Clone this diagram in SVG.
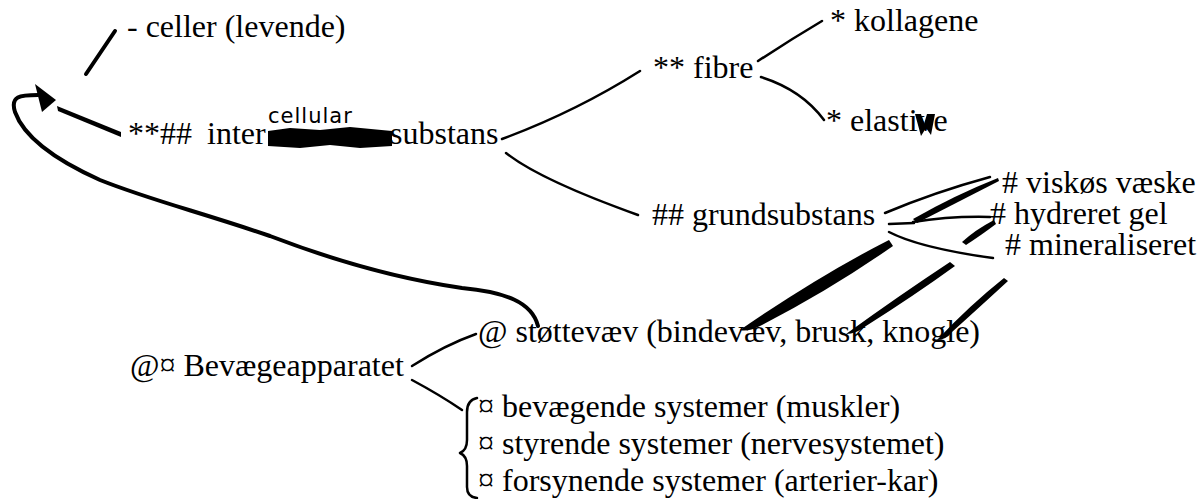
<svg xmlns="http://www.w3.org/2000/svg" width="1198" height="499" viewBox="0 0 1198 499">
<style>
.t{font-family:"Liberation Serif","Times New Roman",serif;font-size:32px;fill:#000}
.hw{font-family:"DejaVu Sans","Liberation Sans",sans-serif;font-size:21px;fill:#000;letter-spacing:1px}
.ln{fill:none;stroke:#000;stroke-width:2.5;stroke-linecap:round;stroke-linejoin:round}
.thk{fill:none;stroke:#000;stroke-width:4;stroke-linecap:round;stroke-linejoin:round}
.ink{fill:#000;stroke:none}
</style>
<rect width="1198" height="499" fill="#fff"/>
<g id="connectors">
  <!-- slash near celler -->
  <path class="thk" d="M86 74 L115 31"/>
  <!-- arrow to intercellular -->
  <path class="ink" d="M57 106 L121 132 L121 137 L58 111 Z"/>
  <!-- big feedback curve -->
  <path class="thk" d="M538 326 C532 302 505 292 462 288 C400 279 330 259 270 236 C200 212 150 200 100 180 C60 162 25 140 15 112 C10 96 20 95 38 95"/>
  <polygon class="ink" points="35,84 56,100 42,112"/>
  <!-- substans to fibre / grundsubstans -->
  <path class="ln" d="M502 139 Q575 112 640 71"/>
  <path class="ln" d="M506 153 Q540 180 638 215"/>
  <!-- fibre to kollagene / elastive -->
  <path class="ln" d="M758 61 Q790 40 822 21"/>
  <path class="ln" d="M761 77 Q802 90 824 120"/>
  <!-- grundsubstans to viskøs / hydreret / mineraliseret -->
  <path class="ln" d="M885 213 Q935 192 990 177"/>
  <path class="ink" d="M913 219 Q955 195 998 178 L999 181 Q960 201 917 223 Z"/>
  <path class="ln" d="M889 224 L914 223"/>
  <path class="ln" d="M913 222 Q950 216 990 217"/>
  <path class="ink" d="M962 242 Q975 230 994 220 L996 224 Q980 236 966 245 Z"/>
  <path class="ln" d="M889 232 Q920 248 993 258"/>
  <!-- heavy strokes down to støttevæv -->
  <path class="ink" d="M889 240 Q820 275 740 330 Q748 332 760 326 Q830 290 893 246 Z"/>
  <path class="ink" d="M950 262 Q900 295 846 334 Q856 334 866 326 Q915 295 955 266 Z"/>
  <path class="ink" d="M1004 278 Q970 305 937 340 Q946 340 952 332 Q983 304 1008 281 Z"/>
  <!-- Bevægeapparatet branches -->
  <path class="ln" d="M412 366 Q445 345 476 334"/>
  <path class="ln" d="M412 380 Q440 395 462 410"/>
  <!-- brace -->
  <path class="ln" d="M477 398 Q467 400 467 412 L467 440 Q467 450 460 453 Q467 456 467 466 L467 487 Q467 497 477 498"/>
</g>
<g id="celler"><text class="t" x="127" y="37">- celler (levende)</text></g>
<g id="intercellular">
  <text class="t" x="128" y="144">**##</text>
  <text class="t" x="207" y="144">inter</text>
  <path class="ink" d="M268 131 L290 128 L320 130 L350 127 L392 131 L392 146 L360 148 L330 145 L300 148 L268 146 Z"/>
  <text class="t" x="390" y="144">substans</text>
  <text class="hw" x="268" y="123">cellular</text>
</g>
<g id="fibre"><text class="t" x="653" y="78">** fibre</text></g>
<g id="kollagene"><text class="t" x="830" y="31">* kollagene</text></g>
<g id="elastive">
  <text class="t" x="826" y="131">* elastive</text>
  <path class="ink" d="M915 114 L921 114 L924 124 L927 114 L935 114 L931 135 L926 128 L921 136 Z"/>
</g>
<g id="grundsubstans"><text class="t" x="652" y="225">## grundsubstans</text></g>
<g id="viskos"><text class="t" x="1002" y="193"># viskøs væske</text></g>
<g id="hydreret"><text class="t" x="990" y="224"># hydreret gel</text></g>
<g id="mineraliseret"><text class="t" x="1005" y="255"># mineraliseret</text></g>
<g id="stottevaev"><text class="t" x="478" y="342">@ støttevæv (bindevæv, brusk, knogle)</text></g>
<g id="bevaegeapparatet"><text class="t" x="130" y="376">@¤ Bevægeapparatet</text></g>
<g id="systemer">
  <text class="t" x="478" y="417">¤ bevægende systemer (muskler)</text>
  <text class="t" x="478" y="454">¤ styrende systemer (nervesystemet)</text>
  <text class="t" x="478" y="491">¤ forsynende systemer (arterier-kar)</text>
</g>
</svg>
